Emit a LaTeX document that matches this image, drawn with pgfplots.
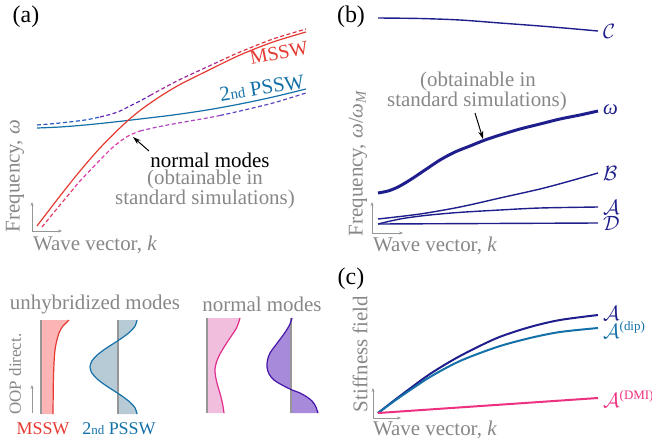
\documentclass[border=0pt]{standalone}
\usepackage{pgfplots}
\pgfplotsset{compat=1.18}
\usepackage{fontspec}
\setmainfont{Liberation Serif}
\usetikzlibrary{arrows.meta}
\definecolor{mred}{RGB}{228,58,50}
\definecolor{pblue}{RGB}{20,112,168}
\definecolor{navy}{RGB}{30,30,140}
\definecolor{tgray}{RGB}{135,135,135}
\definecolor{lgray}{RGB}{150,150,150}
\definecolor{dmipink}{RGB}{238,48,128}
\definecolor{pinkfill}{RGB}{241,190,221}
\definecolor{pinkline}{RGB}{225,45,140}
\definecolor{purfill}{RGB}{168,138,218}
\definecolor{purline}{RGB}{70,20,170}
\definecolor{redfill}{RGB}{253,180,180}
\definecolor{bluefill}{RGB}{182,203,214}
\definecolor{dA}{RGB}{40,90,190}
\definecolor{dB}{RGB}{100,40,180}
\definecolor{dC}{RGB}{160,40,150}
\definecolor{dD}{RGB}{222,52,70}
\definecolor{lA}{RGB}{230,60,100}
\definecolor{lB}{RGB}{220,60,170}
\definecolor{lC}{RGB}{170,70,190}
\definecolor{lD}{RGB}{90,70,190}
\newcommand{\fs}[1]{\fontsize{#1}{#1}\selectfont}
\pgfplotsset{pix/.style={scale only axis, hide axis, clip=false, y dir=reverse, anchor=north west}}
\tikzset{garrow/.style={draw=lgray, line width=0.9bp, -{Stealth[length=4bp,width=3bp]}},
  dsh/.style={line width=1.2bp, dash pattern=on 4bp off 2.5bp, smooth}}
\begin{document}
\begin{tikzpicture}
\useasboundingbox (0,0) rectangle (652bp,-444bp);
% ---------- panel (a)
\begin{axis}[pix, xmin=0, xmax=330, ymin=0, ymax=260, width=330bp, height=260bp, at={(0bp,0bp)}]
\addplot[pblue, line width=1.2bp, smooth] coordinates {(37,128) (60,127) (85,125) (105,123) (123,121) (140,119) (173,115) (207,110) (240,104) (273,97) (306,89)};
\addplot[mred, line width=1.2bp, smooth] coordinates {(37,226) (60,196) (80,171) (100,148) (123,125) (140,110.5) (160,96.5) (180,84.5) (207,71) (240,55) (273,42) (306,32)};
% upper normal mode
\addplot[dA, dsh] coordinates {(37,125) (60,123) (85,120) (100,117)};
\addplot[dB, dsh] coordinates {(100,117) (110,114.5) (120,111) (130,106) (140,101) (150,95.5)};
\addplot[dC, dsh] coordinates {(150,95.5) (160,90) (180,79.5) (207,67) (220,61)};
\addplot[dD, dsh] coordinates {(220,61) (240,52) (273,39) (306,29)};
% lower normal mode
\addplot[lA, dsh] coordinates {(42,227) (60,205) (75,187)};
\addplot[lB, dsh] coordinates {(75,187) (80,181) (100,160) (112,148) (122,140) (130,135) (140,131)};
\addplot[lC, dsh] coordinates {(140,131) (155,127.5) (173,124) (207,118) (220,115.5)};
\addplot[lD, dsh] coordinates {(220,115.5) (240,111) (273,103) (306,93)};
\draw[garrow] (axis cs:32,231) -- (axis cs:32,202);
\draw[garrow] (axis cs:32,231) -- (axis cs:62,231);
\draw[black, line width=1bp, -{Stealth[length=8bp,width=5bp]}] (axis cs:149,151) -- (axis cs:133,137);
\node[font=\fs{24}] at (axis cs:26,17) {(a)};
\node[rotate=11, text=mred, font=\fs{20}, inner sep=0pt] at (axis cs:279,53) {MSSW};
\node[rotate=9, text=pblue, font=\fs{21}, inner sep=0pt] at (axis cs:262,88) {2{\fs{15}nd} PSSW};
\node[font=\fs{21}, inner sep=0pt] at (axis cs:210,160) {normal modes};
\node[text=tgray, font=\fs{21}, inner sep=0pt] at (axis cs:205,179) {(obtainable in};
\node[text=tgray, font=\fs{21}, inner sep=0pt] at (axis cs:205,199) {standard simulations)};
\node[rotate=90, text=tgray, font=\fs{21}, inner sep=0pt] at (axis cs:15,176) {Frequency, \textit{ω}};
\node[text=tgray, font=\fs{21}, inner sep=0pt] at (axis cs:95,245) {Wave vector, \textit{k}};
\end{axis}
% ---------- panel (b)
\begin{axis}[pix, xmin=330, xmax=652, ymin=0, ymax=260, width=322bp, height=260bp, at={(330bp,0bp)}]
\addplot[navy, line width=1.4bp, smooth] coordinates {(378,18) (420,18.5) (460,20) (500,23) (540,26) (570,28.5) (598,31)};
\addplot[navy, line width=3bp, smooth] coordinates {(378,193) (388,191) (398,187) (410,180) (425,170) (440,160) (455,152) (470,146) (485,140) (500,135) (520,129) (540,124) (560,119) (580,115) (598,111)};
\addplot[navy, line width=1.4bp, smooth] coordinates {(378,219) (420,214) (460,207) (500,198) (540,189) (570,181) (598,173)};
\addplot[navy, line width=1.4bp, smooth] coordinates {(378,224) (400,219) (425,215.5) (458,212.5) (500,210) (540,208) (598,207)};
\addplot[navy, line width=1.4bp] coordinates {(378,224) (598,223)};
\draw[garrow] (axis cs:372,233) -- (axis cs:372,202);
\draw[garrow] (axis cs:372,233) -- (axis cs:403,233);
\draw[black, line width=1bp, -{Stealth[length=8bp,width=5bp]}] (axis cs:475,113) -- (axis cs:483,139);
\node[font=\fs{24}] at (axis cs:351,17) {(b)};
\node[text=navy, font=\fs{21}, anchor=west, inner sep=0pt] at (axis cs:603,31) {$\mathcal{C}$};
\node[text=navy, font=\fs{21}, anchor=west, inner sep=0pt] at (axis cs:603,110) {\textit{ω}};
\node[text=navy, font=\fs{21}, anchor=west, inner sep=0pt] at (axis cs:603,173) {$\mathcal{B}$};
\node[text=navy, font=\fs{21}, anchor=west, inner sep=0pt] at (axis cs:603,207) {$\mathcal{A}$};
\node[text=navy, font=\fs{21}, anchor=west, inner sep=0pt] at (axis cs:603,223) {$\mathcal{D}$};
\node[text=tgray, font=\fs{21}, inner sep=0pt] at (axis cs:478,81) {(obtainable in};
\node[text=tgray, font=\fs{21}, inner sep=0pt] at (axis cs:477,101) {standard simulations)};
\node[rotate=90, text=tgray, font=\fs{21}, inner sep=0pt] at (axis cs:358,163) {Frequency, \textit{ω}/\textit{ω}\textsubscript{\textit{M}}};
\node[text=tgray, font=\fs{21}, inner sep=0pt] at (axis cs:435,246) {Wave vector, \textit{k}};
\end{axis}
% ---------- panel (c)
\begin{axis}[pix, xmin=330, xmax=652, ymin=260, ymax=444, width=322bp, height=184bp, at={(330bp,-260bp)}]
\addplot[navy, line width=2bp, smooth] coordinates {(378,413) (400,396) (430,374) (460,356) (497,338) (530,327) (560,320) (598,315)};
\addplot[pblue, line width=2bp, smooth] coordinates {(378,413) (400,397) (430,377) (460,361) (497,347) (530,338) (560,332) (598,328)};
\addplot[dmipink, line width=2bp] coordinates {(378,413) (598,398)};
\draw[garrow] (axis cs:373,418) -- (axis cs:373,388);
\draw[garrow] (axis cs:373,418) -- (axis cs:401,418);
\node[font=\fs{24}] at (axis cs:351,279) {(c)};
\node[text=navy, font=\fs{21}, anchor=west, inner sep=0pt] at (axis cs:603,313) {$\mathcal{A}$};
\node[text=pblue, font=\fs{21}, anchor=west, inner sep=0pt] at (axis cs:603,330) {$\mathcal{A}$\textsuperscript{\fs{13}(dip)}};
\node[text=dmipink, font=\fs{21}, anchor=west, inner sep=0pt] at (axis cs:603,399) {$\mathcal{A}$\textsuperscript{\fs{13}(DMI)}};
\node[rotate=90, text=tgray, font=\fs{21}, inner sep=0pt] at (axis cs:360,354) {Stiffness field};
\node[text=tgray, font=\fs{21}, inner sep=0pt] at (axis cs:435,430) {Wave vector, \textit{k}};
\end{axis}
% ---------- mode profiles
\begin{axis}[pix, xmin=0, xmax=330, ymin=260, ymax=444, width=330bp, height=184bp, at={(0bp,-260bp)}]
\addplot[fill=redfill, draw=none] coordinates {(41,320) (69,320) (66,323) (63,326) (61,329) (59,333) (57.5,338) (56,344) (55,350) (54.3,358) (53.8,368) (53.4,380) (53.2,395) (53,414) (41,414)};
\addplot[mred, line width=1.2bp, smooth] coordinates {(69,320) (66,323) (63,326) (61,329) (59,333) (57.5,338) (56,344) (55,350) (54.3,358) (53.8,368) (53.4,380) (53.2,395) (53,414)};
\addplot[lgray, line width=1.5bp] coordinates {(41,320) (41,414)};
\addplot[fill=bluefill, draw=none] coordinates {(118,320) (137,320) (135.21,325.875) (130.12,331.75) (122.49,337.625) (113.5,343.5) (104.51,349.375) (96.88,355.25) (91.79,361.125) (90,367) (91.79,372.875) (96.88,378.75) (104.51,384.625) (113.5,390.5) (122.49,396.375) (130.12,402.25) (135.21,408.125) (137,414) (118,414)};
\addplot[lgray, line width=1.5bp] coordinates {(118,320) (118,414)};
\addplot[pblue, line width=1.2bp, smooth] coordinates {(137,320) (135.21,325.875) (130.12,331.75) (122.49,337.625) (113.5,343.5) (104.51,349.375) (96.88,355.25) (91.79,361.125) (90,367) (91.79,372.875) (96.88,378.75) (104.51,384.625) (113.5,390.5) (122.49,396.375) (130.12,402.25) (135.21,408.125) (137,414)};
\addplot[fill=pinkfill, draw=none] coordinates {(207,318) (240,318) (238.5,323) (236,329) (232,335) (228,341) (223.5,348) (219.5,355) (216.5,362) (215,369) (215.5,376) (217,383) (219,390) (221,397) (222.8,405) (224,413) (207,413)};
\addplot[lgray, line width=1.5bp] coordinates {(207,318) (207,413)};
\addplot[pinkline, line width=1.2bp, smooth] coordinates {(240,318) (238.5,323) (236,329) (232,335) (228,341) (223.5,348) (219.5,355) (216.5,362) (215,369) (215.5,376) (217,383) (219,390) (221,397) (222.8,405) (224,413)};
\addplot[fill=purfill, draw=none] coordinates {(291,318) (292,318) (290,324) (286,331) (281,338) (275,346) (270,353) (267.5,360) (267,367) (269,374) (274,380) (282,385) (291,389.5) (300,393) (307,397) (312,401) (315.5,406) (318,413) (291,413)};
\addplot[lgray, line width=1.5bp] coordinates {(291,318) (291,413)};
\addplot[purline, line width=1.2bp, smooth] coordinates {(292,318) (290,324) (286,331) (281,338) (275,346) (270,353) (267.5,360) (267,367) (269,374) (274,380) (282,385) (291,389.5) (300,393) (307,397) (312,401) (315.5,406) (318,413)};
\draw[garrow] (axis cs:32,413) -- (axis cs:32,385);
\node[text=tgray, font=\fs{21}, inner sep=0pt] at (axis cs:95,304) {unhybridized modes};
\node[text=tgray, font=\fs{21}, inner sep=0pt] at (axis cs:262,304) {normal modes};
\node[rotate=90, text=tgray, font=\fs{17}, inner sep=0pt] at (axis cs:15,374) {OOP direct.};
\node[text=mred, font=\fs{18}, inner sep=0pt] at (axis cs:43,429) {MSSW};
\node[text=pblue, font=\fs{18}, inner sep=0pt] at (axis cs:119,429) {2{\fs{13}nd} PSSW};
\end{axis}
\end{tikzpicture}
\end{document}
